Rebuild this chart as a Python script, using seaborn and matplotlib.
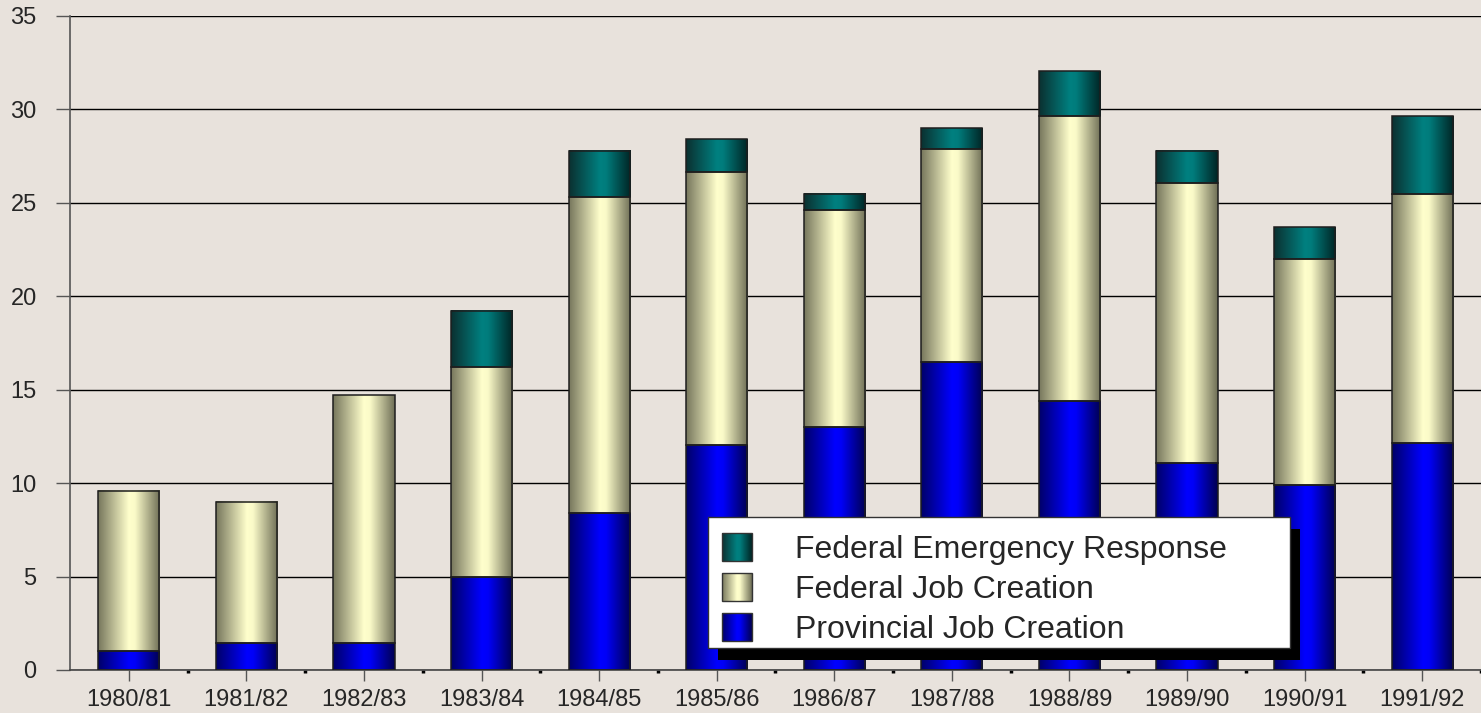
import numpy as np
import pandas as pd
import matplotlib
matplotlib.use("Agg")
import matplotlib.pyplot as plt
import seaborn as sns
from matplotlib.colors import LinearSegmentedColormap
from matplotlib.patches import Rectangle, Patch
from matplotlib.legend_handler import HandlerBase

years = ["1980/81", "1981/82", "1982/83", "1983/84", "1984/85", "1985/86",
         "1986/87", "1987/88", "1988/89", "1989/90", "1990/91", "1991/92"]
provincial = [1.0, 1.45, 1.45, 5.0, 8.4, 12.05, 13.0, 16.5, 14.4, 11.1, 9.9, 12.15]
federal_job = [8.6, 7.55, 13.25, 11.2, 16.9, 14.6, 11.6, 11.4, 15.25, 14.95, 12.1, 13.35]
federal_emergency = [0.0, 0.0, 0.0, 3.0, 2.5, 1.75, 0.9, 1.1, 2.4, 1.75, 1.7, 4.15]

labels = ["Federal Emergency Response", "Federal Job Creation", "Provincial Job Creation"]

BG = "#E8E2DC"

cmap_blue = LinearSegmentedColormap.from_list(
    "blue", [(0, "#000068"), (0.5, "#0000FF"), (0.6, "#0000F8"), (1, "#000050")])
cmap_yellow = LinearSegmentedColormap.from_list(
    "yellow", [(0, "#76765C"), (0.5, "#FFFFCC"), (0.6, "#FAFAC8"), (1, "#6E6E56")])
cmap_teal = LinearSegmentedColormap.from_list(
    "teal", [(0, "#0B3030"), (0.5, "#008080"), (0.6, "#007C7C"), (1, "#002424")])

df = pd.DataFrame({"year": years, "prov": provincial, "fed": federal_job,
                   "emer": federal_emergency})
df["fed_bottom"] = df["prov"]
df["emer_bottom"] = df["prov"] + df["fed"]

sns.set_style("white")
plt.rcParams["font.family"] = ["Liberation Sans", "DejaVu Sans"]

fig = plt.figure(figsize=(14.81, 7.13), dpi=100, facecolor=BG)
ax = fig.add_axes([70 / 1481, 43 / 713, 1411 / 1481, 654 / 713])
ax.set_facecolor(BG)

w = 0.52
sns.barplot(data=df, x="year", y="prov", color="blue", width=w,
            errorbar=None, ax=ax)
sns.barplot(data=df, x="year", y="fed", bottom=df["fed_bottom"].values,
            color="yellow", width=w, errorbar=None, ax=ax)
sns.barplot(data=df, x="year", y="emer", bottom=df["emer_bottom"].values,
            color="teal", width=w, errorbar=None, ax=ax)

# cylinder-like shading on every bar segment
grad = np.linspace(0, 1, 256).reshape(1, -1)
for cont, cmap in zip(ax.containers, [cmap_blue, cmap_yellow, cmap_teal]):
    for p in cont.patches:
        x, y, bw, bh = p.get_x(), p.get_y(), p.get_width(), p.get_height()
        if bh > 0:
            ax.imshow(grad, extent=[x, x + bw, y, y + bh], aspect="auto",
                      cmap=cmap, zorder=2.5, interpolation="bilinear")
            p.set_facecolor("none")
            p.set_edgecolor("#1e1e1e")
            p.set_linewidth(1.1)
            p.set_zorder(3)
        else:
            p.set_visible(False)

ax.set_xlim(-0.5, 11.5)
ax.set_ylim(0, 35)
ax.set_yticks(range(0, 36, 5))
ax.set_xlabel("")
ax.set_ylabel("")
ax.set_axisbelow(True)
ax.yaxis.grid(True, color="black", linewidth=1.0)
ax.xaxis.grid(False)

for s in ["top", "right"]:
    ax.spines[s].set_visible(False)
ax.spines["left"].set_color("#555555")
ax.spines["bottom"].set_color("#444444")
ax.spines["left"].set_linewidth(1.2)
ax.spines["bottom"].set_linewidth(1.2)

ax.tick_params(axis="y", length=10, width=1, color="#555555", pad=14,
               labelsize=17, left=True)
ax.tick_params(axis="x", length=8, width=1, color="#555555", pad=6,
               labelsize=17, bottom=True)
ax.set_xticks(np.arange(-0.5, 11.5, 1) + 1, minor=True)
ax.tick_params(axis="x", which="minor", length=2, width=2.5, color="black",
               bottom=True)


class GradientHandler(HandlerBase):
    def __init__(self, cmap):
        super().__init__()
        self.cmap = cmap

    def create_artists(self, legend, orig_handle, xdescent, ydescent,
                       width, height, fontsize, trans):
        n = 30
        arts = []
        for i in range(n):
            arts.append(Rectangle((-xdescent + width * i / n, -ydescent),
                                  width / n + 0.1, height,
                                  facecolor=self.cmap((i + 0.5) / n),
                                  edgecolor="none", transform=trans))
        arts.append(Rectangle((-xdescent, -ydescent), width, height,
                              facecolor="none", edgecolor="#333333",
                              linewidth=1.0, transform=trans))
        return arts


# legend box with hard black shadow
fig.add_artist(Rectangle((718 / 1481, 1 - 660 / 713), 582 / 1481, 131 / 713,
                         transform=fig.transFigure, facecolor="black",
                         edgecolor="none", zorder=3))
fig.add_artist(Rectangle((708 / 1481, 1 - 648 / 713), 582 / 1481, 131 / 713,
                         transform=fig.transFigure, facecolor="white",
                         edgecolor="#333333", linewidth=1.0, zorder=4))

handles = [Patch(), Patch(), Patch()]
hmap = {handles[0]: GradientHandler(cmap_teal),
        handles[1]: GradientHandler(cmap_yellow),
        handles[2]: GradientHandler(cmap_blue)}
leg = fig.legend(handles, labels, handler_map=hmap, loc="upper left",
                 bbox_to_anchor=(722 / 1481, 1 - 533 / 713),
                 bbox_transform=fig.transFigure, frameon=False,
                 fontsize=23, borderpad=0, borderaxespad=0,
                 handlelength=0.95, handleheight=0.95, handletextpad=1.35,
                 labelspacing=0.26)
leg.set_zorder(5)

fig.savefig("out.png", dpi=100, facecolor=BG)
